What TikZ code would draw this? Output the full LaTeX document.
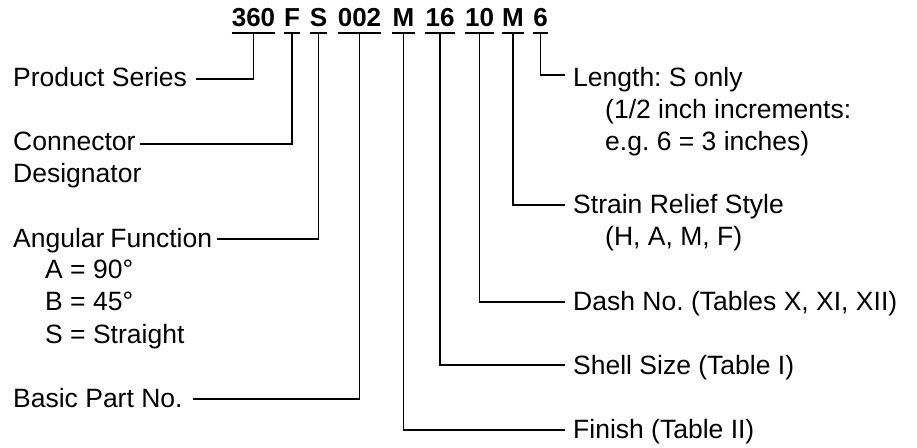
\documentclass[tikz,border=0pt]{standalone}
\usepackage{fontspec}
\setmainfont{Liberation Sans}
\frenchspacing
\begin{document}
\frenchspacing
\begin{tikzpicture}[x=1pt,y=-1pt,
  lbl/.style={anchor=base west, inner sep=0pt, font=\fontsize{26.5}{32}\selectfont},
  code/.style={anchor=base, inner sep=0pt, font=\fontsize{26}{32}\selectfont\bfseries},
  wire/.style={line width=1.8pt, line join=miter}]
\useasboundingbox (0,0) rectangle (917,447);
% code parts
\node[code] (c1) at (253.5,27) {360};
\node[code] (c2) at (292,27) {F};
\node[code] (c3) at (318.5,27) {S};
\node[code] (c4) at (359.5,27) {002};
\node[code] (c5) at (403.5,27) {M};
\node[code] (c6) at (440,27) {16};
\node[code] (c7) at (479.5,27) {10};
\node[code] (c8) at (513,27) {M};
\node[code] (c9) at (540.5,27) {6};
\coordinate (uy) at (0,33);
\foreach \n in {c1,c2,c3,c4,c5,c6,c7,c8,c9}
  \draw[wire] (\n.west |- uy) -- (\n.east |- uy);
% left labels
\node[lbl] (ps) at (13,86) {Product Series};
\node[lbl] (cd) at (13,150) {Connector};
\node[lbl] (cd2) at (13,182) {Designator};
\node[lbl] (af) at (13,247) {Angular\hspace{-1.5pt} Function};
\node[lbl] (af1) at (45,278) {A = 90°};
\node[lbl] (af2) at (45,310) {B = 45°};
\node[lbl] (af3) at (45,343) {S = Straight};
\node[lbl] (bp) at (13,407) {Basic Part No.};
% right labels
\node[lbl] (ln) at (573,86) {Length: S only};
\node[lbl] (ln1) at (605,118) {(1/2 inch increments:};
\node[lbl] (ln2) at (605,150) {e.g. 6 = 3 inches)};
\node[lbl] (sr) at (573,213) {Strain Relief Style};
\node[lbl] (sr1) at (605,245) {(H, A, M, F)};
\node[lbl] (dn) at (573,310) {Dash No. (Tables X, XI, XII)};
\node[lbl] (ss) at (573,374) {Shell Size (Table I)};
\node[lbl] (fn) at (573,438) {Finish (Table II)};
% connector ends
\coordinate (psE) at (196,79);
\coordinate (cdE) at (140,144);
\coordinate (afE) at (217,239);
\coordinate (bpE) at (193,399);
\coordinate (lnE) at (565,75);
\coordinate (srE) at (565,205);
\coordinate (dnE) at (565,302);
\coordinate (ssE) at (565,365);
\coordinate (fnE) at (565,430);
% connectors
\draw[wire] (c1 |- uy) |- (psE);
\draw[wire] (c2 |- uy) |- (cdE);
\draw[wire] (c3 |- uy) |- (afE);
\draw[wire] (c4 |- uy) |- (bpE);
\draw[wire] (c5 |- uy) |- (fnE);
\draw[wire] (c6 |- uy) |- (ssE);
\draw[wire] (c7 |- uy) |- (dnE);
\draw[wire] (c8 |- uy) |- (srE);
\draw[wire] (c9 |- uy) |- (lnE);
\end{tikzpicture}
\end{document}
